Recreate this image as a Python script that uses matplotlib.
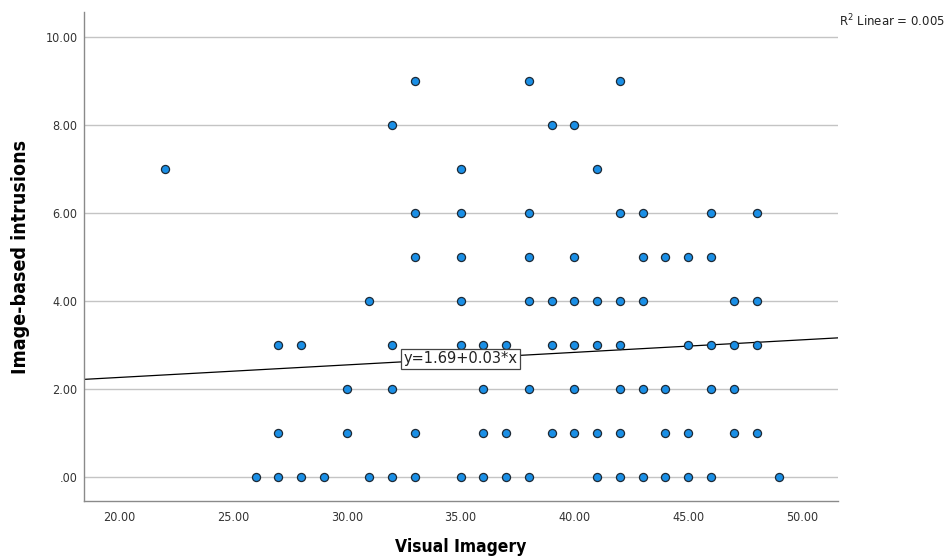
import matplotlib
matplotlib.use("Agg")
import matplotlib.pyplot as plt
from matplotlib import font_manager

# data, one list per intrusion level
x_9 = [33, 38, 42]
x_8 = [32, 39, 40]
x_7 = [22, 35, 41]
x_6 = [33, 35, 38, 42, 43, 46, 48]
x_5 = [33, 35, 38, 40, 43, 44, 45, 46]
x_4 = [31, 35, 38, 39, 40, 41, 42, 43, 47, 48]
x_3 = [27, 28, 32, 35, 36, 37, 39, 40, 41, 42, 45, 46, 47, 48]
x_2 = [30, 32, 36, 38, 40, 42, 43, 44, 46, 47]
x_1 = [27, 30, 33, 36, 37, 39, 40, 41, 42, 44, 45, 47, 48]
x_0 = [26, 27, 28, 29, 31, 32, 33, 35, 36, 37, 38, 41, 42, 43, 44, 45, 46, 49]

rows = {9: x_9, 8: x_8, 7: x_7, 6: x_6, 5: x_5, 4: x_4, 3: x_3, 2: x_2, 1: x_1, 0: x_0}
imagery = [x for level, xs in rows.items() for x in xs]
intrusions = [level for level, xs in rows.items() for x in xs]

fit_intercept = 1.69
fit_slope = 0.0285
fit_label = "y=1.69+0.03*x"
r2_label = "R$^2$ Linear = 0.005"

x_ticks = [20, 25, 30, 35, 40, 45, 50]
y_ticks = [0, 2, 4, 6, 8, 10]
y_ticklabels = [".00", "2.00", "4.00", "6.00", "8.00", "10.00"]

# narrow font if there is one, SPSS output uses a condensed face
names = {f.name for f in font_manager.fontManager.ttflist}
if "Liberation Sans Narrow" in names:
    label_font = ["Liberation Sans Narrow", "DejaVu Sans"]
    stretch = "normal"
else:
    label_font = ["DejaVu Sans"]
    stretch = "condensed"

fig = plt.figure(figsize=(9.48, 5.57), dpi=100)
ax = fig.add_axes([0.0886, 0.1005, 0.7954, 0.878])

xlim = (18.46, 51.58)
ylim = (-0.55, 10.57)
ax.set_xlim(*xlim)
ax.set_ylim(*ylim)

# gridlines
for yv in y_ticks:
    ax.axhline(yv, color="#c4c4c4", linewidth=1.0, zorder=0)

# fit line across whole axis
ax.plot(xlim, [fit_intercept + fit_slope * xv for xv in xlim],
        color="black", linewidth=0.9, zorder=2)

ax.scatter(imagery, intrusions, s=34, color="#1a8fe6", edgecolors="#1d2a36",
           linewidths=0.9, zorder=3)

ax.text(35, 2.68, fit_label, ha="center", va="center", fontsize=10.5,
        color="#222222", zorder=4,
        bbox=dict(boxstyle="square,pad=0.15", facecolor="white",
                  edgecolor="#444444", linewidth=0.9))

fig.text(0.885, 0.962, r2_label, ha="left", va="center",
         fontsize=8.5, color="#222222")

ax.set_xticks(x_ticks)
ax.set_xticklabels(["%.2f" % v for v in x_ticks], family=label_font, stretch=stretch)
ax.set_yticks(y_ticks)
ax.set_yticklabels(y_ticklabels, family=label_font, stretch=stretch)
ax.tick_params(length=0, labelsize=9, colors="#333333")
ax.tick_params(axis="x", pad=7)
ax.tick_params(axis="y", pad=4.5)

ax.set_xlabel("Visual Imagery", fontsize=12.5, fontweight="bold",
              family=label_font, stretch=stretch, labelpad=10)
ax.set_ylabel("Image-based intrusions", fontsize=14, fontweight="bold",
              family=label_font, stretch=stretch, labelpad=11)

for side in ["top", "right"]:
    ax.spines[side].set_visible(False)
for side in ["left", "bottom"]:
    ax.spines[side].set_color("#8a8a8a")
    ax.spines[side].set_linewidth(1.0)

fig.savefig("out.png", dpi=100)
